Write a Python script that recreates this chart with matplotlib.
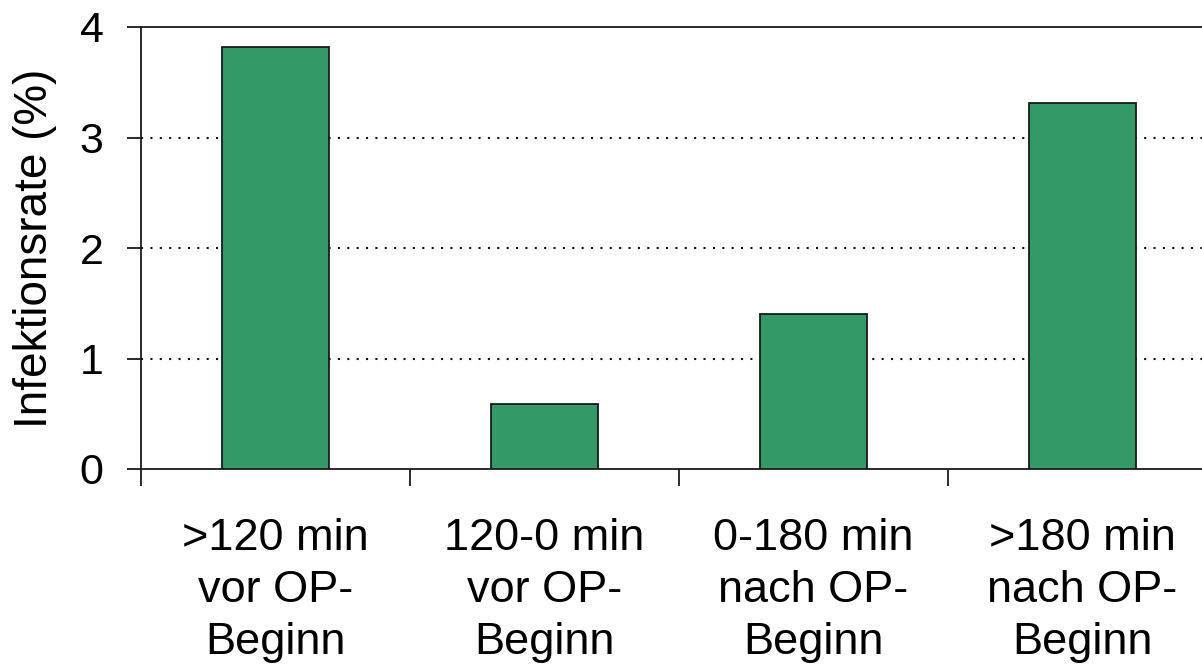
import numpy as np
import matplotlib
matplotlib.use("Agg")
import matplotlib.pyplot as plt
from matplotlib.ticker import FixedLocator

# data
CATEGORIES = [">120 min\nvor OP-\nBeginn",
              "120-0 min\nvor OP-\nBeginn",
              "0-180 min\nnach OP-\nBeginn",
              ">180 min\nnach OP-\nBeginn"]
RATES = [3.82, 0.59, 1.40, 3.31]
Y_TICKS = [0, 1, 2, 3, 4]

plt.rcParams["font.family"] = ["Liberation Sans", "DejaVu Sans"]

fig = plt.figure(figsize=(12.02, 6.67), dpi=100)
# the plot area runs a bit past the right edge of the picture
ax = fig.add_axes([141 / 1202, 198 / 667, 1076 / 1202, 442 / 667])

x = np.arange(len(RATES))
ax.bar(x, RATES, width=0.4, color="#339966", edgecolor="#1a1a1a",
       linewidth=1.3, zorder=3)

ax.set_xlim(-0.5, len(RATES) - 0.5)
ax.set_ylim(0, 4)
ax.set_yticks(Y_TICKS)
ax.set_yticklabels([str(t) for t in Y_TICKS], fontsize=31)

# ticks at category boundaries, labels at category centres
ax.xaxis.set_major_locator(FixedLocator(np.arange(len(RATES) + 1) - 0.5))
ax.xaxis.set_minor_locator(FixedLocator(x))
ax.set_xticklabels([""] * (len(RATES) + 1))
ax.set_xticklabels(CATEGORIES, minor=True, fontsize=32.5, linespacing=1.35)
ax.tick_params(axis="x", which="major", length=12, width=1.3, color="#1a1a1a")
ax.tick_params(axis="x", which="minor", length=0, pad=35)
ax.tick_params(axis="y", length=10, width=1.3, color="#1a1a1a", pad=17)

ax.set_ylabel("Infektionsrate (%)", fontsize=33, labelpad=16)

for y in Y_TICKS[1:-1]:
    ax.axhline(y, color="#111111", linewidth=1.5, dashes=(1, 3.5), zorder=1)

for side in ["left", "bottom", "top"]:
    ax.spines[side].set_linewidth(1.3)
    ax.spines[side].set_color("#1a1a1a")
ax.spines["right"].set_visible(False)

fig.savefig("out.png", dpi=100)
